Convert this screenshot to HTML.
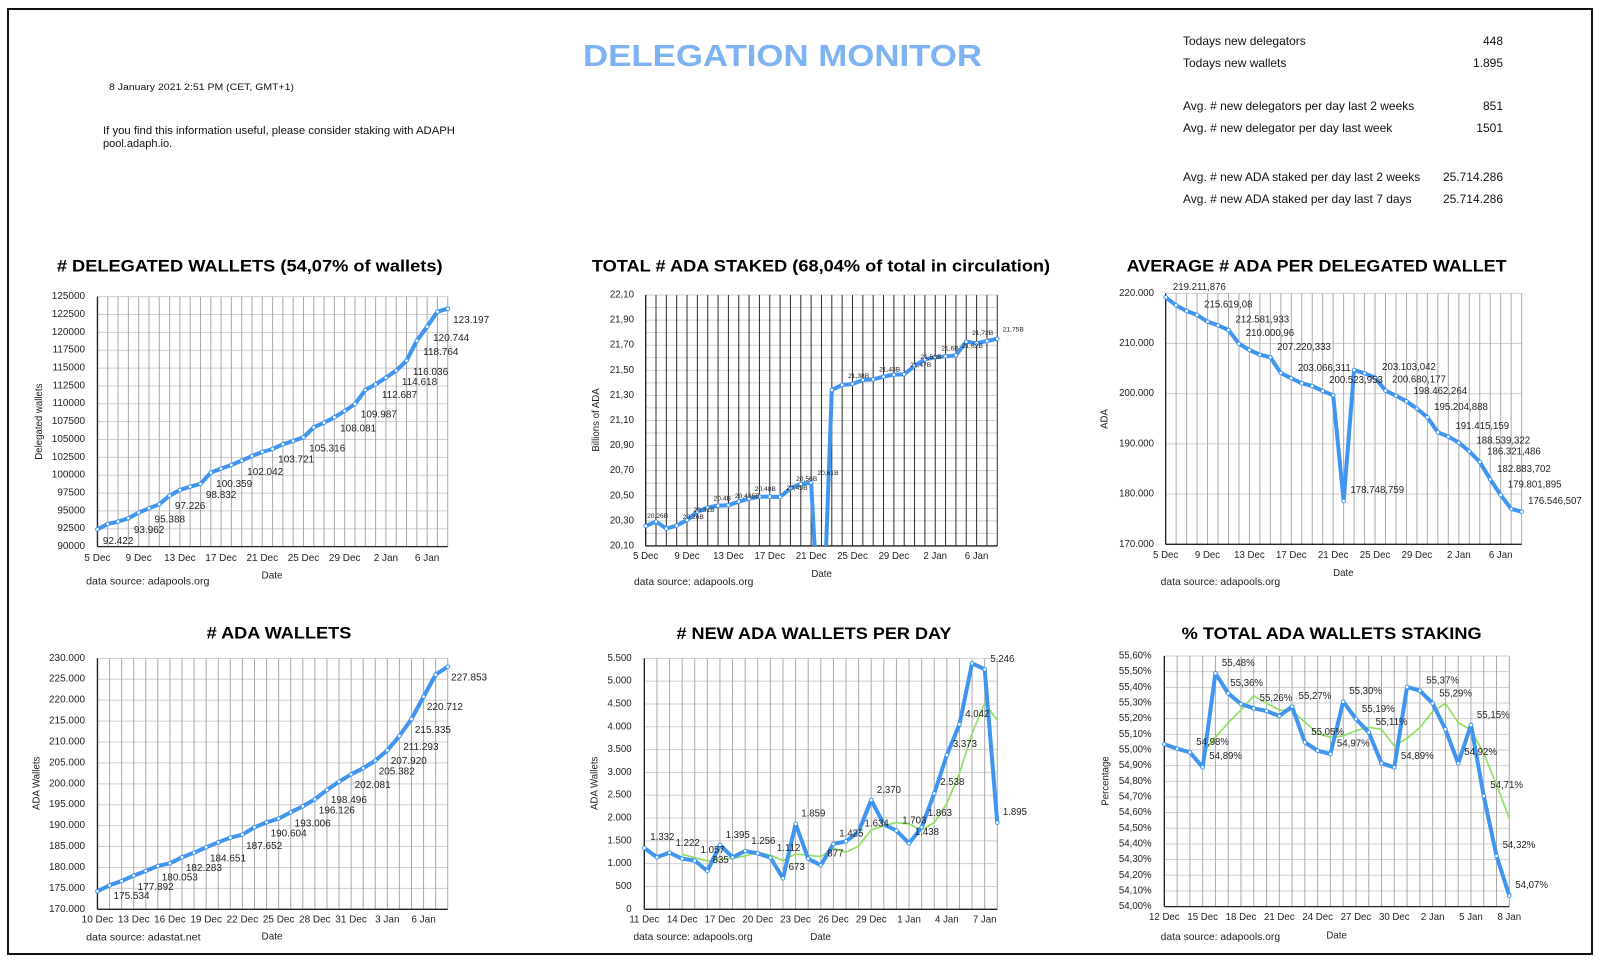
<!DOCTYPE html>
<html><head><meta charset="utf-8"><style>
html,body{margin:0;padding:0;background:#fff;}
svg{display:block;font-family:"Liberation Sans",Arial,sans-serif;}
</style></head><body>
<svg id="s" width="1600" height="963" viewBox="0 0 1600 963" xmlns="http://www.w3.org/2000/svg">
<rect x="0" y="0" width="1600" height="963" fill="#fff"/>
<rect x="8" y="9" width="1584" height="945" fill="none" stroke="#111" stroke-width="2"/>
<text x="583" y="66" font-size="31" font-weight="bold" fill="#7db3f2" textLength="399" lengthAdjust="spacingAndGlyphs">DELEGATION MONITOR</text>
<text x="109" y="90" font-size="9.5" fill="#111" textLength="185" lengthAdjust="spacingAndGlyphs">8 January 2021 2:51 PM   (CET, GMT+1)</text>
<text x="103" y="134" font-size="11" fill="#111" textLength="352" lengthAdjust="spacingAndGlyphs">If you find this information useful, please consider staking with ADAPH</text>
<text x="103" y="147" font-size="11" fill="#111">pool.adaph.io.</text>
<g font-size="12" fill="#111">
<text x="1183" y="45">Todays new delegators</text><text x="1503" y="45" text-anchor="end">448</text>
<text x="1183" y="67">Todays new wallets</text><text x="1503" y="67" text-anchor="end">1.895</text>
<text x="1183" y="110">Avg. # new delegators per day last 2 weeks</text><text x="1503" y="110" text-anchor="end">851</text>
<text x="1183" y="132">Avg. # new delegator per day last week</text><text x="1503" y="132" text-anchor="end">1501</text>
<text x="1183" y="181">Avg. # new ADA staked per day last 2 weeks</text><text x="1503" y="181" text-anchor="end">25.714.286</text>
<text x="1183" y="203">Avg. # new ADA staked per day last 7 days</text><text x="1503" y="203" text-anchor="end">25.714.286</text>
</g>
<g id="c1" transform="translate(0,240) scale(0.3444,0.3333)"></g>
<g id="c2" transform="translate(560,240) scale(0.3333,0.3333)"></g>
<g id="c3" transform="translate(1080,240) scale(0.3333,0.3333)"></g>
<g id="c4" transform="translate(0,600) scale(0.3444,0.3333)"></g>
<g id="c5" transform="translate(560,600) scale(0.3333,0.3333)"></g>
<g id="c6" transform="translate(1070,600) scale(0.3333,0.3333)"></g>
</svg>
<script>
var NS="http://www.w3.org/2000/svg";
function el(p,t,a,txt){var e=document.createElementNS(NS,t);for(var k in a)e.setAttribute(k,a[k]);if(txt!==undefined)e.textContent=txt;p.appendChild(e);return e;}
function draw(id,c){
 var g=document.getElementById(id),L=c.L,R=c.R,T=c.T,B=c.B,n=c.n,dx=(R-L)/(n-1);
 // horizontal grid
 var k=c.ticks.length,m=c.minor||1,steps=(k-1)*m;
 for(var i=0;i<=steps;i++){var y=T+(B-T)*i/steps;el(g,'line',{x1:L,x2:R,y1:y,y2:y,stroke:'#cfcfcf','stroke-width':3});}
 for(var i=0;i<n;i++){var x=L+dx*i;el(g,'line',{x1:x,x2:x,y1:T,y2:B,stroke:c.vc||'#a9a9a9','stroke-width':3});}
 el(g,'line',{x1:L,x2:R,y1:B,y2:B,stroke:'#222','stroke-width':4});
 el(g,'line',{x1:L,x2:L,y1:T,y2:B,stroke:'#222','stroke-width':4});
 for(var i=0;i<k;i++){var y=T+(B-T)*i/(k-1);el(g,'text',{x:c.tickR,y:y,'text-anchor':'end','dominant-baseline':'central','font-size':29,fill:'#222'},c.ticks[i]);}
 c.xl.forEach(function(a){el(g,'text',{x:L+dx*a[1],y:c.xly,'text-anchor':'middle','dominant-baseline':'central','font-size':29,fill:'#222'},a[0]);});
 var cid=id+'clip';var cp=el(g,'clipPath',{id:cid});el(cp,'rect',{x:L-20,y:T-40,width:R-L+40,height:B-T+40});
 c.series.forEach(function(s){
  var pts=[];s.ys.forEach(function(y,j){pts.push((L+dx*(j+(s.start||0))).toFixed(1)+','+y);});
  el(g,'polyline',{points:pts.join(' '),fill:'none',stroke:s.color,'stroke-width':s.w,'stroke-linejoin':'round','stroke-linecap':'round','clip-path':'url(#'+cid+')'});
  if(s.dots)s.ys.forEach(function(y,j){if(y<=B+5)el(g,'circle',{cx:L+dx*(j+(s.start||0)),cy:y,r:5.5,fill:'#fff',stroke:s.color,'stroke-width':3});});
 });
 c.labels.forEach(function(a){el(g,'text',{x:a[1],y:a[2],'text-anchor':'middle','dominant-baseline':'central','font-size':c.lf||29,fill:'#222'},a[0]);});
 el(g,'text',{x:c.title[1],y:c.title[2],'text-anchor':'middle','dominant-baseline':'central','font-size':50,'font-weight':'bold',fill:'#000',textLength:c.title[3],lengthAdjust:'spacingAndGlyphs'},c.title[0]);
 el(g,'text',{transform:'translate('+c.yl[1]+','+c.yl[2]+') rotate(-90)','text-anchor':'middle','dominant-baseline':'central','font-size':29,fill:'#222'},c.yl[0]);
 el(g,'text',{x:c.date[0],y:c.date[1],'text-anchor':'middle','dominant-baseline':'central','font-size':29,fill:'#222'},'Date');
 var st=el(g,'text',{x:c.src[1],y:c.src[2],'dominant-baseline':'central','font-size':31,fill:'#222'},c.src[0]);
}
var BL='#3f95ef',GR='#8ee060';
var d1=[['5 Dec',0],['9 Dec',4],['13 Dec',8],['17 Dec',12],['21 Dec',16],['25 Dec',20],['29 Dec',24],['2 Jan',28],['6 Jan',32]];
draw('c1',{L:283,R:1300,T:170,B:920,n:35,tickR:247,xly:955,
 ticks:['125000','122500','120000','117500','115000','112500','110000','107500','105000','102500','100000','97500','95000','92500','90000'],
 xl:d1,series:[{color:BL,w:12,dots:1,ys:[868,852,845,835,818,805,793,767,750,740,732,698,686,675,662,648,636,627,613,603,592,562,548,532,513,492,450,433,413,392,362,302,260,215,206]}],
 labels:[['92.422',343,905],['93.962',433,872],['95.388',493,840],['97.226',552,800],['98.832',642,766],['100.359',680,733],['102.042',770,697],['103.721',860,660],['105.316',950,627],['108.081',1040,567],['109.987',1100,525],['112.687',1160,467],['114.618',1218,428],['116.036',1250,397],['118.764',1280,338],['120.744',1310,295],['123.197',1368,241]],
 title:['# DELEGATED WALLETS (54,07% of wallets)',725,78,1120],yl:['Delegated wallets',115,545],date:[790,1008],src:['data source: adapools.org',250,1025]});
draw('c2',{L:257,R:1312,T:165,B:918,n:35,tickR:222,xly:950,minor:2,vc:'#2a2a2a',lf:20,
 ticks:['22,10','21,90','21,70','21,50','21,30','21,10','20,90','20,70','20,50','20,30','20,10'],
 xl:d1,series:[{color:BL,w:12,dots:1,ys:[858,845,866,857,840,815,803,797,796,785,776,770,770,771,745,732,728,1300,450,435,432,420,418,410,404,403,378,358,352,349,346,305,310,303,296]}],
 labels:[['20,26B',293,830],['20,26B',400,832],['20,31B',432,812],['20,4B',487,777],['20,435B',562,770],['20,48B',616,748],['20,49B',711,745],['20,56B',740,718],['20,61B',804,700],['21,38B',896,410],['21,43B',989,390],['21,47B',1082,377],['21,53B',1113,352],['21,6B',1170,327],['21,62B',1237,320],['21,72B',1268,280],['21,75B',1360,270]],
 title:['TOTAL # ADA STAKED (68,04% of total in circulation)',783,78,1375],yl:['Billions of ADA',110,540],date:[785,1003],src:['data source: adapools.org',222,1027]});
draw('c3',{L:257,R:1325,T:160,B:913,n:35,tickR:222,xly:947,
 ticks:['220.000','210.000','200.000','190.000','180.000','170.000'],
 xl:d1,series:[{color:BL,w:12,dots:1,ys:[172,196,213,225,245,256,270,311,330,344,352,399,415,430,438,453,466,783,390,400,413,452,467,484,506,532,577,590,608,634,666,718,765,807,815]}],
 labels:[['219.211,876',358,142],['215.619,08',445,195],['212.581,933',547,240],['210.000,96',570,280],['207.220,333',672,322],['203.066,311',733,385],['200.523,953',828,422],['178.748,759',892,752],['203.103,042',987,383],['200.680,177',1017,420],['198.462,264',1081,455],['195.204,888',1143,503],['191.415,159',1207,560],['188.539,322',1270,603],['186.321,486',1302,636],['182.883,702',1332,688],['179.801,895',1364,735],['176.546,507',1425,784]],
 title:['AVERAGE # ADA PER DELEGATED WALLET',710,78,1140],yl:['ADA',75,537],date:[790,1000],src:['data source: adapools.org',242,1027]});
draw('c4',{L:283,R:1300,T:175,B:928,n:30,tickR:247,xly:960,
 ticks:['230.000','225.000','220.000','215.000','210.000','205.000','200.000','195.000','190.000','185.000','180.000','175.000','170.000'],
 xl:[['10 Dec',0],['13 Dec',3],['16 Dec',6],['19 Dec',9],['22 Dec',12],['25 Dec',15],['28 Dec',18],['31 Dec',21],['3 Jan',24],['6 Jan',27]],
 series:[{color:BL,w:12,dots:1,ys:[874,856,843,827,813,798,790,772,758,742,727,713,704,682,667,656,637,619,598,570,545,523,505,482,451,408,357,290,224,200]}],
 labels:[['175.534',382,890],['177.892',452,862],['180.053',522,834],['182.283',592,806],['184.651',662,777],['187.652',767,740],['190.604',838,702],['193.006',908,672],['196.126',978,633],['198.496',1013,602],['202.081',1082,557],['205.382',1152,516],['207.920',1187,484],['211.293',1222,443],['215.335',1257,391],['220.712',1292,323],['227.853',1362,234]],
 title:['# ADA WALLETS',810,100,420],yl:['ADA Wallets',108,550],date:[790,1012],src:['data source: adastat.net',250,1013]});
draw('c5',{L:253,R:1312,T:175,B:928,n:29,tickR:215,xly:960,
 ticks:['5.500','5.000','4.500','4.000','3.500','3.000','2.500','2.000','1.500','1.000','500','0'],
 xl:[['11 Dec',0],['14 Dec',3],['17 Dec',6],['20 Dec',9],['23 Dec',12],['26 Dec',15],['29 Dec',18],['1 Jan',21],['4 Jan',24],['7 Jan',27]],
 series:[{color:GR,w:5,start:3,ys:[763,773,783,778,775,768,758,765,782,762,766,770,745,757,738,690,677,668,672,690,668,610,520,400,310,360]},
  {color:BL,w:12,dots:1,ys:[744,772,758,776,782,813,735,772,753,760,773,835,672,776,796,732,724,695,600,673,692,730,682,580,465,373,190,208,668]}],
 labels:[['1.332',307,713],['1.222',383,730],['1.057',458,752],['835',482,782],['1.395',533,706],['1.256',610,724],['1.112',686,745],['673',710,803],['1.859',760,642],['877',826,762],['1.425',874,702],['1.634',950,672],['2.370',987,572],['1.703',1063,663],['1.438',1101,698],['1.863',1140,641],['2.538',1177,548],['3.373',1215,434],['4.042',1252,343],['5.246',1327,178],['1.895',1365,637]],
 title:['# NEW ADA WALLETS PER DAY',762,100,825],yl:['ADA Wallets',105,550],date:[782,1013],src:['data source: adapools.org',220,1013]});
draw('c6',{L:283,R:1318,T:168,B:920,n:28,tickR:245,xly:953,
 ticks:['55,60%','55,50%','55,40%','55,30%','55,20%','55,10%','55,00%','54,90%','54,80%','54,70%','54,60%','54,50%','54,40%','54,30%','54,20%','54,10%','54,00%'],
 xl:[['12 Dec',0],['15 Dec',3],['18 Dec',6],['21 Dec',9],['24 Dec',12],['27 Dec',15],['30 Dec',18],['2 Jan',21],['5 Jan',24],['8 Jan',27]],
 series:[{color:GR,w:5,start:3,ys:[460,412,368,330,287,310,330,332,366,400,412,408,392,382,388,438,415,383,335,310,368,390,460,555,655]},
  {color:BL,w:12,dots:1,ys:[433,446,457,502,220,280,312,325,333,348,320,427,452,462,305,357,397,490,502,261,272,310,388,490,375,588,768,887]}],
 labels:[['55,48%',505,190],['54,98%',428,428],['54,89%',467,470],['55,36%',530,250],['55,26%',618,296],['55,27%',735,290],['55,05%',773,397],['54,97%',850,432],['55,30%',887,275],['55,19%',925,328],['55,11%',965,368],['54,89%',1042,470],['55,37%',1118,243],['55,29%',1157,282],['55,15%',1270,347],['54,92%',1232,458],['54,71%',1310,557],['54,32%',1347,737],['54,07%',1385,857]],
 title:['% TOTAL ADA WALLETS STAKING',785,100,900],yl:['Percentage',108,543],date:[800,1008],src:['data source: adapools.org',272,1012]});
</script>
</body></html>
